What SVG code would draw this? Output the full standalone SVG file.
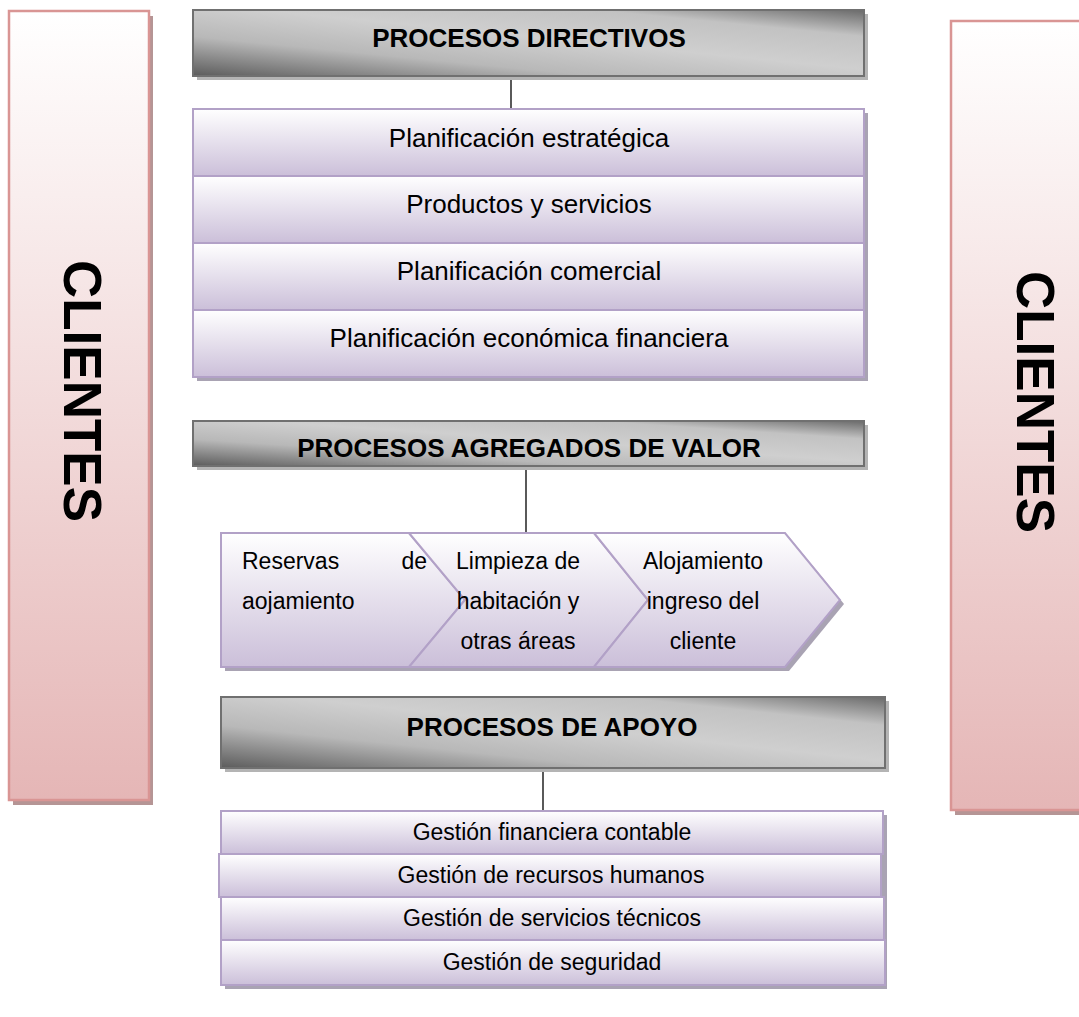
<svg xmlns="http://www.w3.org/2000/svg" width="1079" height="1017" viewBox="0 0 1079 1017">
<defs>
<linearGradient id="pink" x1="0" y1="0" x2="0" y2="1"><stop offset="0" stop-color="#ffffff"/><stop offset="1" stop-color="#e5b6b6"/></linearGradient>
<linearGradient id="lav" x1="0" y1="0" x2="0" y2="1"><stop offset="0" stop-color="#ffffff"/><stop offset="1" stop-color="#cbbfd9"/></linearGradient>
<linearGradient id="gray" x1="0" y1="1" x2="1" y2="0"><stop offset="0" stop-color="#5c5c5c"/><stop offset="0.3" stop-color="#b8b8b8"/><stop offset="0.55" stop-color="#cfcfcf"/><stop offset="0.8" stop-color="#c2c2c2"/><stop offset="1" stop-color="#6a6a6a"/></linearGradient>
<style>
.cli{fill:url(#pink);stroke:#d99594;stroke-width:2.5}
.clish{fill:#b59595}
.hdr{fill:url(#gray);stroke:#707070;stroke-width:2}
.hdrsh{fill:#b4b4b4}
.row{fill:url(#lav);stroke:#b2a1c7;stroke-width:2}
.rowsh{fill:#a9a3b3}
.t{font-family:"Liberation Sans",Arial,sans-serif;fill:#000}
.hd{font-weight:bold;font-size:26px;text-anchor:middle}
.li{font-size:26px;text-anchor:middle}
.ch{font-size:23px}
.ap{font-size:23px;text-anchor:middle}
.big{font-weight:bold;font-size:53px;text-anchor:middle}
.con{stroke:#000;stroke-width:1.3;fill:none}
</style>
</defs>
<rect width="1079" height="1017" fill="#ffffff"/>

<g id="clientes-izq">
<rect class="clish" x="13" y="16" width="140" height="789"/>
<rect class="cli" x="9" y="11" width="140" height="789"/>
<text class="t big" transform="translate(64,391) rotate(90)">CLIENTES</text>
</g>

<g id="clientes-der">
<rect class="clish" x="955" y="26" width="140" height="789"/>
<rect class="cli" x="951" y="21" width="140" height="789"/>
<text class="t big" transform="translate(1017,402) rotate(90)">CLIENTES</text>
</g>

<g id="connectors">
<line class="con" x1="511" y1="76" x2="511" y2="109"/>
<line class="con" x1="526" y1="466" x2="526" y2="533"/>
<line class="con" x1="543" y1="768" x2="543" y2="811"/>
</g>

<g id="procesos-directivos">
<rect class="hdrsh" x="197" y="14" width="671" height="66"/>
<rect class="hdr" x="193" y="10" width="671" height="66"/>
<text class="t hd" x="529" y="47">PROCESOS DIRECTIVOS</text>
</g>

<g id="directivos-lista">
<rect class="rowsh" x="197" y="113" width="671" height="268"/>
<g id="d1"><rect class="row" x="193" y="109" width="671" height="67"/><text class="t li" x="529" y="147">Planificación estratégica</text></g>
<g id="d2"><rect class="row" x="193" y="176" width="671" height="67"/><text class="t li" x="529" y="213">Productos y servicios</text></g>
<g id="d3"><rect class="row" x="193" y="243" width="671" height="67"/><text class="t li" x="529" y="280">Planificación comercial</text></g>
<g id="d4"><rect class="row" x="193" y="310" width="671" height="67"/><text class="t li" x="529" y="347">Planificación económica financiera</text></g>
</g>

<g id="procesos-valor">
<rect class="hdrsh" x="197" y="425" width="671" height="45"/>
<rect class="hdr" x="193" y="421" width="671" height="45"/>
<text class="t hd" x="529" y="457">PROCESOS AGREGADOS DE VALOR</text>
</g>

<g id="cadena-valor">
<polygon class="rowsh" points="225,537 413,537 469,604 413,671 225,671"/>
<polygon class="rowsh" points="413,537 598,537 652,604 598,671 413,671"/>
<polygon class="rowsh" points="598,537 789,537 844,604 789,671 598,671"/>
<g id="v1"><polygon class="row" points="221,533 409,533 465,600 409,667 221,667"/>
<text class="t ch" x="242" y="569">Reservas</text><text class="t ch" x="427" y="569" text-anchor="end">de</text>
<text class="t ch" x="242" y="609">aojamiento</text></g>
<g id="v2"><polygon class="row" points="409,533 594,533 648,600 594,667 409,667 465,600"/>
<text class="t ch" x="518" y="569" text-anchor="middle">Limpieza de</text>
<text class="t ch" x="518" y="609" text-anchor="middle">habitación y</text>
<text class="t ch" x="518" y="649" text-anchor="middle">otras áreas</text></g>
<g id="v3"><polygon class="row" points="594,533 785,533 840,600 785,667 594,667 648,600"/>
<text class="t ch" x="703" y="569" text-anchor="middle">Alojamiento</text>
<text class="t ch" x="703" y="609" text-anchor="middle">ingreso del</text>
<text class="t ch" x="703" y="649" text-anchor="middle">cliente</text></g>
</g>

<g id="procesos-apoyo">
<rect class="hdrsh" x="225" y="701" width="664" height="71"/>
<rect class="hdr" x="221" y="697" width="664" height="71"/>
<text class="t hd" x="552" y="736">PROCESOS DE APOYO</text>
</g>

<g id="apoyo-lista">
<rect class="rowsh" x="225" y="815" width="662" height="174"/>
<g id="a1"><rect class="row" x="221" y="811" width="662" height="43"/><text class="t ap" x="552" y="840">Gestión financiera contable</text></g>
<g id="a2"><rect class="row" x="219" y="854" width="662" height="43"/><text class="t ap" x="551" y="883">Gestión de recursos humanos</text></g>
<g id="a3"><rect class="row" x="221" y="897" width="663" height="43"/><text class="t ap" x="552" y="926">Gestión de servicios técnicos</text></g>
<g id="a4"><rect class="row" x="221" y="940" width="664" height="45"/><text class="t ap" x="552" y="970">Gestión de seguridad</text></g>
</g>
</svg>
